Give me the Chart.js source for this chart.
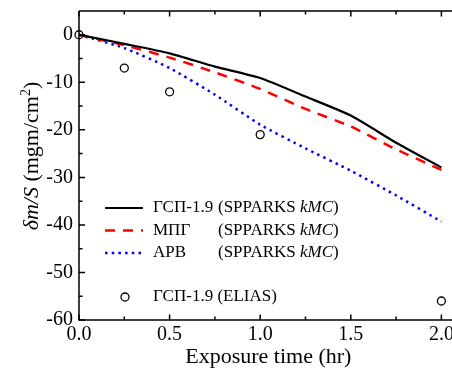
<!DOCTYPE html>
<html>
<head>
<meta charset="utf-8">
<script src="https://cdn.jsdelivr.net/npm/chart.js@4.4.1/dist/chart.umd.min.js"></script>
<style>
  html, body { margin: 0; padding: 0; background: #fff; overflow: hidden; }
  canvas { display: block; }
</style>
</head>
<body>
<canvas id="massChart" width="463" height="370"></canvas>
<script>
// exposure time (hr) and mass change per area (mgm/cm2)
const times = [0, 0.25, 0.5, 0.75, 1.0, 1.25, 1.5, 1.75, 2.0];
const gspKmc = [0, -1.9, -3.9, -6.7, -9.1, -13.0, -17.0, -22.7, -27.9];
const mpgKmc = [0, -2.2, -4.8, -7.9, -11.4, -15.6, -19.3, -24.1, -28.4];
const arvKmc = [0, -2.8, -7.0, -12.6, -18.9, -23.9, -28.6, -33.8, -39.3];

const eliasTimes = [0, 0.25, 0.5, 1.0, 2.0];
const gspElias = [0, -7, -12, -21, -56];

const xTicks = [0, 0.5, 1.0, 1.5, 2.0];
const xMinor = [0.25, 0.75, 1.25, 1.75];
const yTicks = [-60, -50, -40, -30, -20, -10, 0];
const yMinor = [-55, -45, -35, -25, -15, -5];

const legendNames = ['ГСП-1.9', 'МПГ', 'АРВ', 'ГСП-1.9'];
const legendSources = ['(SPPARKS ', '(SPPARKS ', '(SPPARKS ', '(ELIAS)'];

const SERIF = '"Liberation Serif", "Times New Roman", serif';

const toPoints = (xs, ys) => xs.map((x, i) => ({ x: x, y: ys[i] }));

// frame, inward ticks, legend and the y title
const decorations = {
  id: 'decorations',
  afterDatasetsDraw(chart) {
    const ctx = chart.ctx;
    const area = chart.chartArea;
    const xs = chart.scales.x;
    const ys = chart.scales.y;
    ctx.save();
    ctx.strokeStyle = '#000';
    ctx.lineWidth = 1.5;
    ctx.beginPath();
    ctx.moveTo(area.left, area.top);
    ctx.lineTo(area.right, area.top);
    ctx.moveTo(area.left, area.top);
    ctx.lineTo(area.left, area.bottom);
    ctx.lineTo(area.right, area.bottom);
    ctx.stroke();

    const tick = (vals, len) => {
      vals.forEach(v => {
        const px = xs.getPixelForValue(v);
        ctx.moveTo(px, area.bottom);
        ctx.lineTo(px, area.bottom - len);
        ctx.moveTo(px, area.top);
        ctx.lineTo(px, area.top + len);
      });
    };
    const ytick = (vals, len) => {
      vals.forEach(v => {
        const py = ys.getPixelForValue(v);
        ctx.moveTo(area.left, py);
        ctx.lineTo(area.left + len, py);
      });
    };
    ctx.beginPath();
    tick(xTicks, 5.5);
    tick(xMinor, 3.5);
    ytick(yTicks, 6);
    ytick(yMinor, 3.5);
    ctx.stroke();

    // legend
    const rows = [208, 230.5, 253, 297];
    const sets = chart.data.datasets;
    ctx.textBaseline = 'middle';
    ctx.fillStyle = '#000';
    for (let i = 0; i < 3; i++) {
      const ds = sets[i];
      ctx.beginPath();
      ctx.strokeStyle = ds.borderColor;
      ctx.lineWidth = ds.borderWidth;
      ctx.setLineDash(ds.borderDash || []);
      ctx.moveTo(105, rows[i]);
      ctx.lineTo(143, rows[i]);
      ctx.stroke();
      ctx.setLineDash([]);
    }
    ctx.beginPath();
    ctx.strokeStyle = '#000';
    ctx.lineWidth = 1.3;
    ctx.arc(125, rows[3], 4, 0, Math.PI * 2);
    ctx.stroke();

    const size = '17px ';
    for (let i = 0; i < 4; i++) {
      ctx.font = size + SERIF;
      ctx.fillText(legendNames[i], 153, rows[i]);
      const sx = i === 3 ? 153 + ctx.measureText(legendNames[i] + ' ').width : 218;
      ctx.fillText(legendSources[i], sx, rows[i]);
      if (i < 3) {
        let cx = sx + ctx.measureText(legendSources[i]).width;
        ctx.font = 'italic ' + size + SERIF;
        ctx.fillText('kMC', cx, rows[i]);
        cx += ctx.measureText('kMC').width;
        ctx.font = size + SERIF;
        ctx.fillText(')', cx, rows[i]);
      }
    }

    // y axis title with italic symbol and superscript
    const parts = [
      { t: 'δm/S', f: 'italic 22px ' + SERIF, dy: 0 },
      { t: ' (mgm/cm', f: '22px ' + SERIF, dy: 0 },
      { t: '2', f: '14px ' + SERIF, dy: -8 },
      { t: ')', f: '22px ' + SERIF, dy: 0 }
    ];
    let total = 0;
    parts.forEach(p => { ctx.font = p.f; p.w = ctx.measureText(p.t).width; total += p.w; });
    ctx.translate(31, 156);
    ctx.rotate(-Math.PI / 2);
    ctx.textBaseline = 'alphabetic';
    let px = -total / 2;
    parts.forEach(p => {
      ctx.font = p.f;
      ctx.fillText(p.t, px, 7 + p.dy);
      px += p.w;
    });
    ctx.restore();
  }
};

new Chart(document.getElementById('massChart'), {
  type: 'line',
  data: {
    datasets: [
      {
        label: 'ГСП-1.9 (SPPARKS kMC)',
        data: toPoints(times, gspKmc),
        borderColor: '#000000',
        borderWidth: 2.2,
        pointRadius: 0,
        tension: 0.2,
        fill: false
      },
      {
        label: 'МПГ (SPPARKS kMC)',
        data: toPoints(times, mpgKmc),
        borderColor: '#ff0000',
        borderWidth: 2.5,
        borderDash: [10, 8],
        pointRadius: 0,
        tension: 0.2,
        fill: false
      },
      {
        label: 'АРВ (SPPARKS kMC)',
        data: toPoints(times, arvKmc),
        borderColor: '#0000ff',
        borderWidth: 2.5,
        borderDash: [2.5, 4.2],
        pointRadius: 0,
        tension: 0.2,
        fill: false
      },
      {
        label: 'ГСП-1.9 (ELIAS)',
        data: toPoints(eliasTimes, gspElias),
        showLine: false,
        pointRadius: 4,
        pointBorderWidth: 1.3,
        pointBorderColor: '#000000',
        pointBackgroundColor: 'rgba(255,255,255,0)',
        clip: false
      }
    ]
  },
  options: {
    responsive: false,
    animation: false,
    events: [],
    layout: { padding: { top: 11, right: 0, left: 0, bottom: 0 } },
    plugins: {
      legend: { display: false },
      tooltip: { enabled: false }
    },
    scales: {
      x: {
        type: 'linear',
        min: 0,
        max: 2.09,
        border: { display: false },
        grid: { display: false, drawTicks: false },
        afterBuildTicks: s => { s.ticks = xTicks.map(v => ({ value: v })); },
        afterFit: s => { s.height = 50; s.paddingLeft = 0; s.paddingRight = 0; },
        ticks: {
          padding: 3,
          color: '#000',
          font: { family: SERIF, size: 20 },
          maxRotation: 0,
          autoSkip: false,
          callback: v => v.toFixed(1)
        },
        title: {
          display: true,
          text: 'Exposure time (hr)',
          color: '#000',
          font: { family: SERIF, size: 22 },
          padding: { top: 0, bottom: 0 }
        }
      },
      y: {
        type: 'linear',
        min: -60,
        max: 5,
        border: { display: false },
        grid: { display: false, drawTicks: false },
        afterBuildTicks: s => { s.ticks = yTicks.map(v => ({ value: v })); },
        afterFit: s => { s.width = 79; s.paddingTop = 0; s.paddingBottom = 0; },
        ticks: {
          padding: 6,
          color: '#000',
          font: { family: SERIF, size: 20 },
          autoSkip: false,
          callback: v => String(v)
        }
      }
    }
  },
  plugins: [decorations]
});
</script>
</body>
</html>
